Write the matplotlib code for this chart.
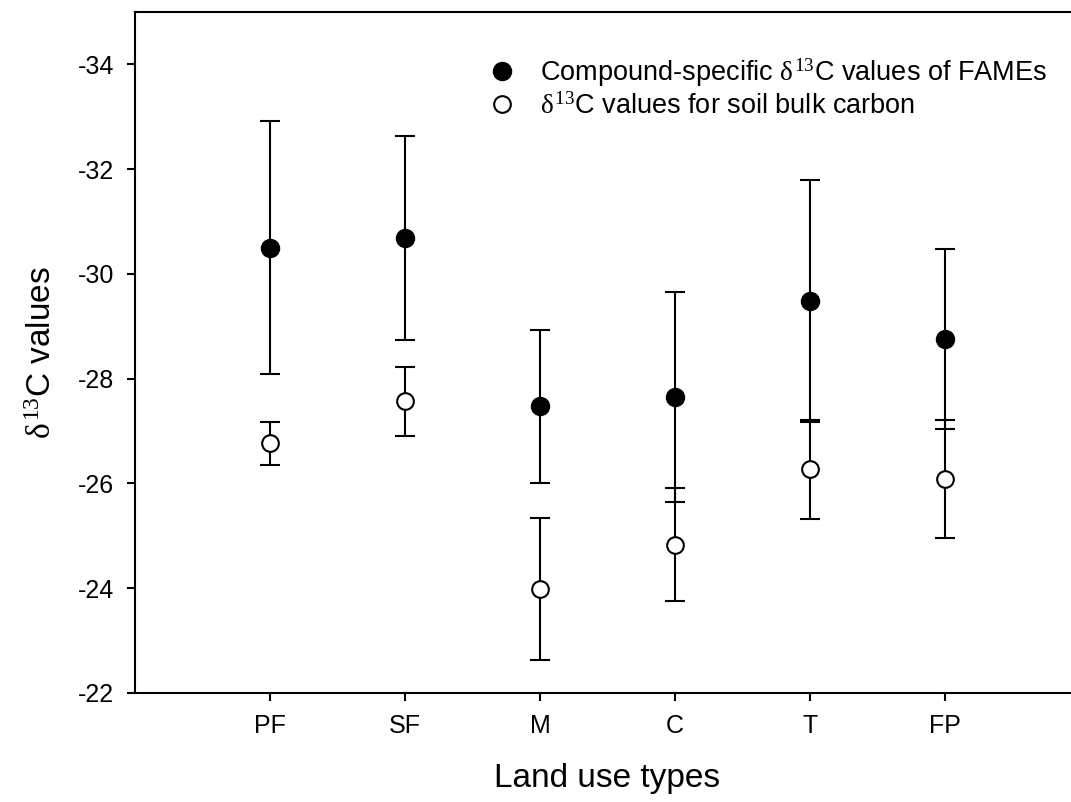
import numpy as np
import matplotlib
matplotlib.use("Agg")
import matplotlib.pyplot as plt

plt.rcParams['font.family'] = ['Liberation Sans', 'DejaVu Sans']
plt.rcParams['mathtext.fontset'] = 'custom'
plt.rcParams['mathtext.rm'] = 'Liberation Serif'
plt.rcParams['mathtext.it'] = 'Liberation Serif'
plt.rcParams['axes.unicode_minus'] = False

# land use types
landuse = ['PF', 'SF', 'M', 'C', 'T', 'FP']

# compound-specific d13C of FAMEs (mean, error)
fame_mean = [-30.50, -30.69, -27.47, -27.65, -29.49, -28.76]
fame_err = [2.41, 1.95, 1.46, 2.00, 2.31, 1.72]

# d13C of soil bulk carbon (mean, error)
soil_mean = [-26.77, -27.57, -23.99, -24.83, -26.27, -26.09]
soil_err = [0.41, 0.66, 1.36, 1.08, 0.94, 1.13]

x = np.arange(1, len(landuse) + 1)

fig = plt.figure(figsize=(10.71, 8.02), dpi=100)
ax = fig.add_axes([135 / 1071, 109 / 802, 945 / 1071, 681 / 802])

ax.errorbar(x, fame_mean, yerr=fame_err, fmt='none', ecolor='black',
            elinewidth=1.5, capsize=7, capthick=1.5, zorder=2)
ax.errorbar(x, soil_mean, yerr=soil_err, fmt='none', ecolor='black',
            elinewidth=1.5, capsize=7, capthick=1.5, zorder=2)

ax.plot(x, fame_mean, 'o', color='black', markersize=13, zorder=3,
        label=r'Compound-specific $\delta^{13}$C values of FAMEs')
ax.plot(x, soil_mean, 'o', markerfacecolor='white', markeredgecolor='black',
        markeredgewidth=1.5, markersize=12, zorder=3,
        label=r'$\delta^{13}$C values for soil bulk carbon')

ax.set_xlim(0, 7)
ax.set_ylim(-22, -35)
ax.set_xticks(x)
ax.set_xticklabels(landuse)
ax.set_yticks([-22, -24, -26, -28, -30, -32, -34])

for s in ax.spines.values():
    s.set_linewidth(1.5)
ax.tick_params(axis='both', direction='out', length=6, width=1.5,
               labelsize=18, pad=9)

ax.set_xlabel('Land use types', fontsize=24, labelpad=18)
ax.set_ylabel(r'$\delta^{13}$C values', fontsize=24, labelpad=14)

ax.legend(loc='upper left', bbox_to_anchor=(0.371, 0.935), frameon=False,
          fontsize=19.5, handlelength=1.2, handletextpad=0.8,
          labelspacing=0.15, borderpad=0, borderaxespad=0)

fig.savefig('out.png', dpi=100)
